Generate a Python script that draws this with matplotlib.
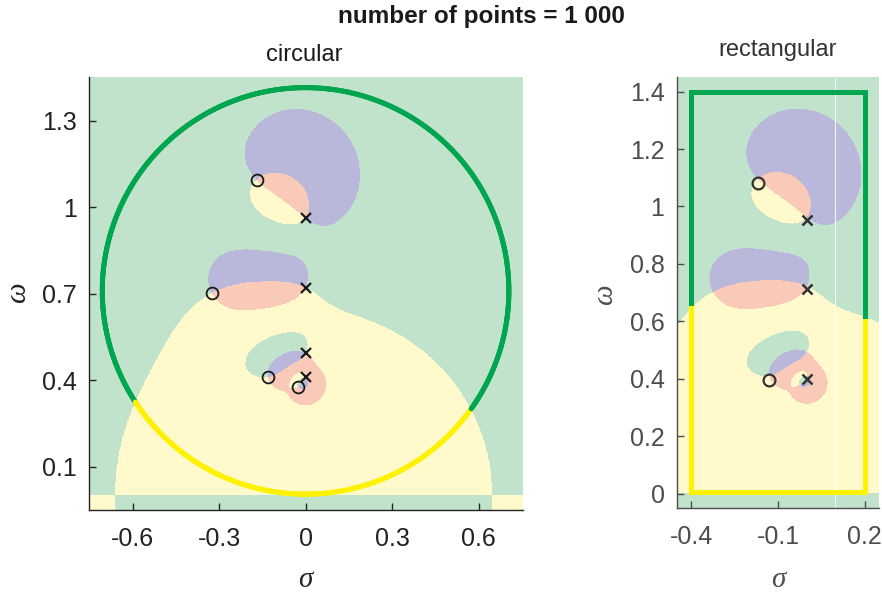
import numpy as np
import matplotlib.pyplot as plt
from matplotlib.colors import ListedColormap
from matplotlib.collections import LineCollection

plt.rcParams['font.family'] = ['Liberation Sans', 'DejaVu Sans']

# zeros and poles of the function (upper half plane; conjugates are mirrored)
zero_re = [-0.170, -0.326, -0.130, -0.026]
zero_im = [1.094, 0.701, 0.410, 0.377]
pole_re = [0.0, 0.0, 0.0, 0.0]
pole_im = [0.962, 0.721, 0.493, 0.410]
gain = -1.0

# roots / poles marked on each plot
circ_zero_re = [-0.170, -0.326, -0.130, -0.026]
circ_zero_im = [1.094, 0.701, 0.410, 0.377]
circ_pole_re = [0.0, 0.0, 0.0, 0.0]
circ_pole_im = [0.962, 0.721, 0.493, 0.410]
rect_zero_re = [-0.168, -0.130]
rect_zero_im = [1.083, 0.395]
rect_pole_re = [0.0, 0.0, 0.0]
rect_pole_im = [0.954, 0.714, 0.400]

# search contours
circ_center = (0.0, 0.71)
circ_radius = 0.705
rect_sigma = [-0.4, 0.2]
rect_omega = [0.006, 1.4]

circ_xticks = [-0.6, -0.3, 0, 0.3, 0.6]
circ_yticks = [0.1, 0.4, 0.7, 1.0, 1.3]
rect_xticks = [-0.4, -0.1, 0.2]
rect_yticks = [0, 0.2, 0.4, 0.6, 0.8, 1.0, 1.2, 1.4]

# quadrant colours: Q1, Q2, Q3, Q4
fill_colors = ['#bab8da', '#c1e2cb', '#fff9cc', '#f9cab8']
line_colors = ['#7b68b0', '#00a64f', '#fff200', '#f08a6a']


def func(s):
    val = gain * np.ones_like(s, dtype=complex)
    for a, b in zip(zero_re, zero_im):
        z = a + 1j * b
        val = val * (s - z) * (s - np.conj(z))
    for a, b in zip(pole_re, pole_im):
        p = a + 1j * b
        val = val / ((s - p) * (s - np.conj(p)))
    return val


def quadrant(v):
    return np.floor(np.angle(v) / (np.pi / 2)).astype(int) % 4


def phase_map(ax, xlim, ylim):
    xs = np.linspace(xlim[0], xlim[1], 700)
    ys = np.linspace(ylim[0], ylim[1], 1400)
    X, Y = np.meshgrid(xs, ys)
    q = quadrant(func(X + 1j * Y))
    ax.imshow(q, origin='lower', extent=[xlim[0], xlim[1], ylim[0], ylim[1]],
              cmap=ListedColormap(fill_colors), vmin=-0.5, vmax=3.5,
              interpolation='nearest', aspect='auto', zorder=0)


def draw_contour(ax, pts, cap):
    q = quadrant(func(pts))
    xy = np.column_stack([pts.real, pts.imag])
    segs = np.stack([xy[:-1], xy[1:]], axis=1)
    lc = LineCollection(segs, colors=[line_colors[k] for k in q[:-1]],
                        linewidths=3.6, capstyle=cap, zorder=2)
    ax.add_collection(lc)


def style_axes(ax, xticks, yticks, color):
    for side in ['top', 'right']:
        ax.spines[side].set_visible(False)
    for side in ['left', 'bottom']:
        ax.spines[side].set_color(color)
        ax.spines[side].set_linewidth(1.0)
        ax.spines[side].set_zorder(5)
    ax.set_xticks(xticks)
    ax.set_xticklabels([f'{v:g}' for v in xticks])
    ax.set_yticks(yticks)
    ax.set_yticklabels([f'{v:g}' for v in yticks])
    ax.tick_params(direction='in', length=5, width=1, color=color,
                   labelcolor=color, labelsize=18)
    ax.tick_params(axis='x', pad=12)
    ax.tick_params(axis='y', pad=9)


fig = plt.figure(figsize=(8.82, 5.93), dpi=100)

# circular contour
ax1 = fig.add_axes([89.3 / 882, 83 / 593, 433.7 / 882, 433.3 / 593])
xl1, yl1 = (-0.75, 0.754), (-0.05, 1.453)
phase_map(ax1, xl1, yl1)
t = np.linspace(0, 2 * np.pi, 1200)
circle = circ_center[0] + 1j * circ_center[1] + circ_radius * np.exp(1j * t)
draw_contour(ax1, circle, 'round')
ax1.plot(circ_zero_re, circ_zero_im, 'o', mfc='none', mec='#1a1a1a', ms=8.5, mew=1.3, zorder=3)
ax1.plot(circ_pole_re, circ_pole_im, 'x', color='#1a1a1a', ms=6.5, mew=1.6, zorder=3)
ax1.set_xlim(xl1)
ax1.set_ylim(yl1)
style_axes(ax1, circ_xticks, circ_yticks, '#222222')

# rectangular contour
ax2 = fig.add_axes([677 / 882, 85 / 593, 202 / 882, 431.3 / 593])
xl2, yl2 = (-0.45, 0.25), (-0.05, 1.452)
phase_map(ax2, xl2, yl2)
corners = [rect_sigma[0] + 1j * rect_omega[0], rect_sigma[1] + 1j * rect_omega[0],
           rect_sigma[1] + 1j * rect_omega[1], rect_sigma[0] + 1j * rect_omega[1],
           rect_sigma[0] + 1j * rect_omega[0]]
edges = [np.linspace(corners[i], corners[i + 1], 400) for i in range(4)]
draw_contour(ax2, np.concatenate(edges), 'projecting')
ax2.axvline(0.096, color='white', lw=0.8, alpha=0.8, zorder=1)
ax2.plot(rect_zero_re, rect_zero_im, 'o', mfc='none', mec='#333333', ms=8.5, mew=1.6, zorder=3)
ax2.plot(rect_pole_re, rect_pole_im, 'x', color='#333333', ms=6.5, mew=1.8, zorder=3)
ax2.set_xlim(xl2)
ax2.set_ylim(yl2)
style_axes(ax2, rect_xticks, rect_yticks, '#4d4d4d')

fig.text(481 / 882, 1 - 17 / 593, 'number of points = 1 000', ha='center', va='center',
         fontsize=17.5, fontweight='bold', color='#1a1a1a')
fig.text(304 / 882, 1 - 55 / 593, 'circular', ha='center', va='center', fontsize=17, color='#1a1a1a')
fig.text(778 / 882, 1 - 50 / 593, 'rectangular', ha='center', va='center', fontsize=17, color='#333333')

serif = dict(family=['Liberation Serif', 'DejaVu Serif'], style='italic', fontsize=21)
fig.text(305 / 882, 1 - 580 / 593, 'σ', ha='center', va='center', color='#222222', **serif)
fig.text(778 / 882, 1 - 580 / 593, 'σ', ha='center', va='center', color='#4d4d4d', **serif)
fig.text(18 / 882, 1 - 293 / 593, 'ω', ha='center', va='center', rotation=90, color='#222222', **serif)
fig.text(605 / 882, 1 - 295 / 593, 'ω', ha='center', va='center', rotation=90, color='#4d4d4d', **serif)

fig.savefig('out.png', dpi=100)
